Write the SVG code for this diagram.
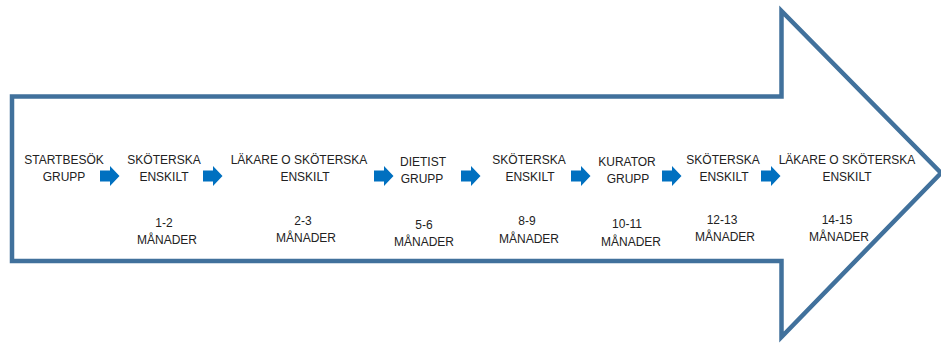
<svg xmlns="http://www.w3.org/2000/svg" width="941" height="343" viewBox="0 0 941 343">
<style>
.bg{fill:#ffffff}
.big{fill:#ffffff;stroke:#41719C;stroke-width:4.5;stroke-linejoin:miter;stroke-miterlimit:10}
.sa{fill:#0070C0}
text{font-family:"Liberation Sans",Arial,sans-serif;font-size:12px;fill:#222222;text-anchor:middle}
</style>
<defs>
<path id="blk" class="sa" d="M0,-5.5 H10 V-10 L19.5,0 L10,10 V5.5 H0 Z"/>
</defs>
<rect class="bg" x="0" y="0" width="941" height="343"/>
<g id="big-arrow">
<path class="big" d="M12,96.5 H781.5 V11 L941,173 L781.5,337 V261 H12 Z"/>
</g>
<g id="connectors">
<use href="#blk" x="100" y="176"/>
<use href="#blk" x="203" y="176"/>
<use href="#blk" x="374" y="176"/>
<use href="#blk" x="461" y="176"/>
<use href="#blk" x="571" y="176"/>
<use href="#blk" x="662" y="176"/>
<use href="#blk" x="761" y="176"/>
</g>
<g id="n1">
<text x="64" y="164">STARTBESÖK</text>
<text x="64" y="181">GRUPP</text>
</g>
<g id="n2">
<text x="164" y="164">SKÖTERSKA</text>
<text x="164" y="181">ENSKILT</text>
<text x="164" y="227">1-2</text>
<text x="167" y="244">MÅNADER</text>
</g>
<g id="n3">
<text x="299" y="164">LÄKARE O SKÖTERSKA</text>
<text x="305" y="181">ENSKILT</text>
<text x="303" y="225">2-3</text>
<text x="306" y="242">MÅNADER</text>
</g>
<g id="n4">
<text x="423" y="166">DIETIST</text>
<text x="422" y="183">GRUPP</text>
<text x="424" y="229">5-6</text>
<text x="424" y="246">MÅNADER</text>
</g>
<g id="n5">
<text x="529" y="164">SKÖTERSKA</text>
<text x="530" y="181">ENSKILT</text>
<text x="527" y="225">8-9</text>
<text x="529" y="243">MÅNADER</text>
</g>
<g id="n6">
<text x="627" y="166">KURATOR</text>
<text x="628" y="183">GRUPP</text>
<text x="627" y="228">10-11</text>
<text x="631" y="246">MÅNADER</text>
</g>
<g id="n7">
<text x="723" y="164">SKÖTERSKA</text>
<text x="724" y="181">ENSKILT</text>
<text x="722" y="224">12-13</text>
<text x="725" y="241">MÅNADER</text>
</g>
<g id="n8">
<text x="847" y="164">LÄKARE O SKÖTERSKA</text>
<text x="847" y="181">ENSKILT</text>
<text x="837" y="224">14-15</text>
<text x="839" y="241">MÅNADER</text>
</g>
</svg>
